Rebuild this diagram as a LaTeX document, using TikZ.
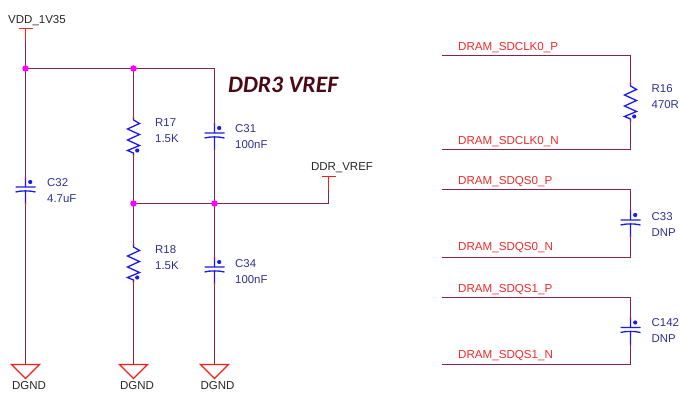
\documentclass[tikz,border=0pt]{standalone}
\usepackage{fontspec}
\setmainfont{Liberation Sans}
\newfontfamily\titlefont{Carlito}
\definecolor{wirec}{HTML}{85234F}
\definecolor{symc}{HTML}{1A1AF0}
\definecolor{partc}{HTML}{2E3192}
\definecolor{netc}{HTML}{EE2A2A}
\definecolor{pwrc}{HTML}{FF1A1A}
\definecolor{titlec}{HTML}{4A0A14}
\definecolor{juncc}{HTML}{FF00FF}
\tikzset{
  wire/.style={draw=wirec,line width=1.5pt},
  sym/.style={draw=symc,line width=1.3pt},
  pwr/.style={draw=pwrc,line width=1.2pt},
  partlabel/.style={font=\fontsize{11.4}{13}\selectfont,text=partc,anchor=west,inner sep=0pt},
  netlabel/.style={font=\fontsize{11.6}{13}\selectfont,text=netc,anchor=west,inner sep=0pt},
  pwrlabel/.style={font=\fontsize{11.5}{13}\selectfont,text=black!85,inner sep=0pt},
  junction/.style={circle,fill=juncc,draw=none,minimum size=6.5pt,inner sep=0pt},
  capsym/.pic={
    % origin at the top pin; plates 10 and 15 below
    \draw[sym] (0,0) -- (0,10) (-10,10) -- (10,10) (-10,15) .. controls (-4,13.5) and (4,13.5) .. (10,15) (0,14) -- (0,27);
    \fill[symc] (4.7,5) circle (2.1);
    \fill[pwrc] (-0.7,-0.7) rectangle (0.7,1) (-0.7,26) rectangle (0.7,27.7);
  },
  ressym/.pic={
    % origin at the top pin; 39 long
    \draw[sym,line join=miter] (0,0) -- (0,3) -- (6,6.5) -- (-6,12) -- (6,17.5) -- (-6,23) -- (6,28.5) -- (-6,33.5) -- (0,36) -- (0,39);
    \fill[symc] (3.7,33.5) circle (2.1);
    \fill[pwrc] (-0.7,-0.7) rectangle (0.7,1) (-0.7,38) rectangle (0.7,39.7);
  },
  gndsym/.pic={
    \draw[pwr,line join=miter] (-14,0) -- (14,0) -- (0,14) -- cycle;
  },
  teesym/.pic={
    % origin at the bottom of the stem, 14 tall
    \draw[pwr] (0,0) -- (0,-14) (-7,-14) -- (7,-14);
  }
}
\begin{document}
\begin{tikzpicture}[x=1pt,y=-1pt]
\useasboundingbox (0,0) rectangle (686,398);
% named points
\coordinate (vddpin) at (25.5,42.5);
\coordinate (j1) at (25.5,68.5);
\coordinate (j2) at (133.5,68.5);
\coordinate (tr) at (214.5,68.5);
\coordinate (j3) at (133.5,203.5);
\coordinate (j4) at (214.5,203.5);
\coordinate (vr) at (328.5,203.5);
\coordinate (vrefpin) at (328.5,190.5);
\coordinate (g1) at (25.5,364.5);
\coordinate (g2) at (133.5,364.5);
\coordinate (g3) at (214.5,364.5);
\coordinate (c32t) at (25.5,177);
\coordinate (c32b) at (25.5,204);
\coordinate (r17t) at (133.5,117);
\coordinate (r17b) at (133.5,156);
\coordinate (r18t) at (133.5,244);
\coordinate (r18b) at (133.5,283);
\coordinate (c31t) at (214.5,123);
\coordinate (c31b) at (214.5,150);
\coordinate (c34t) at (214.5,257);
\coordinate (c34b) at (214.5,284);
\coordinate (clkpl) at (442,55.5);
\coordinate (clkpr) at (630.5,55.5);
\coordinate (clknl) at (442,149.5);
\coordinate (clknr) at (630.5,149.5);
\coordinate (r16t) at (630.5,83);
\coordinate (r16b) at (630.5,122);
\coordinate (q0pl) at (442,189.5);
\coordinate (q0pr) at (630.5,189.5);
\coordinate (q0nl) at (442,257.5);
\coordinate (q0nr) at (630.5,257.5);
\coordinate (c33t) at (630.5,210);
\coordinate (c33b) at (630.5,237);
\coordinate (q1pl) at (442,297.5);
\coordinate (q1pr) at (630.5,297.5);
\coordinate (q1nl) at (442,364.5);
\coordinate (q1nr) at (630.5,364.5);
\coordinate (c142t) at (630.5,317.5);
\coordinate (c142b) at (630.5,344.5);
% wires
\draw[wire] (vddpin) -- (j1) -- (c32t);
\draw[wire] (c32b) -- (g1);
\draw[wire] (j1) -- (j2) -- (tr) -- (c31t);
\draw[wire] (j2) -- (r17t);
\draw[wire] (r17b) -- (j3) -- (r18t);
\draw[wire] (r18b) -- (g2);
\draw[wire] (c31b) -- (j4) -- (c34t);
\draw[wire] (c34b) -- (g3);
\draw[wire] (j3) -- (j4) -- (vr) -- (vrefpin);
\draw[wire] (clkpl) -- (clkpr) -- (r16t);
\draw[wire] (r16b) -- (clknr) -- (clknl);
\draw[wire] (q0pl) -- (q0pr) -- (c33t);
\draw[wire] (c33b) -- (q0nr) -- (q0nl);
\draw[wire] (q1pl) -- (q1pr) -- (c142t);
\draw[wire] (c142b) -- (q1nr) -- (q1nl);
% symbols
\pic at (c32t) {capsym};
\pic at (c31t) {capsym};
\pic at (c34t) {capsym};
\pic at (c33t) {capsym};
\pic at (c142t) {capsym};
\pic at (r17t) {ressym};
\pic at (r18t) {ressym};
\pic at (r16t) {ressym};
\pic at (g1) {gndsym};
\pic at (g2) {gndsym};
\pic at (g3) {gndsym};
\pic at (vddpin) {teesym};
\pic at (vrefpin) {teesym};
% junctions
\node[junction] (dj1) at (j1) {};
\node[junction] (dj2) at (j2) {};
\node[junction] (dj3) at (j3) {};
\node[junction] (dj4) at (j4) {};
% power labels
\node[pwrlabel] (lvdd) at (37,20.5) {VDD\_1V35};
\node[pwrlabel] (lvref) at (342,168) {DDR\_VREF};
\node[pwrlabel] (lg1) at (29,385.5) {DGND};
\node[pwrlabel] (lg2) at (137,385.5) {DGND};
\node[pwrlabel] (lg3) at (217.5,385.5) {DGND};
% part labels
\node[partlabel] (n32) at (47,183) {C32};
\node[partlabel] (v32) at (47,199) {4.7uF};
\node[partlabel] (n17) at (155,122.5) {R17};
\node[partlabel] (v17) at (155,139) {1.5K};
\node[partlabel] (n18) at (155,250) {R18};
\node[partlabel] (v18) at (155,266) {1.5K};
\node[partlabel] (n31) at (235,129) {C31};
\node[partlabel] (v31) at (235,144.5) {100nF};
\node[partlabel] (n34) at (235,264) {C34};
\node[partlabel] (v34) at (235,279.5) {100nF};
\node[partlabel] (n16) at (651.5,89) {R16};
\node[partlabel] (v16) at (651.5,105) {470R};
\node[partlabel] (n33) at (651.5,217) {C33};
\node[partlabel] (v33) at (651.5,233) {DNP};
\node[partlabel] (n142) at (651.5,323) {C142};
\node[partlabel] (v142) at (651.5,339) {DNP};
% net labels
\node[netlabel] (s1) at (458,47.5) {DRAM\_SDCLK0\_P};
\node[netlabel] (s2) at (458,141.5) {DRAM\_SDCLK0\_N};
\node[netlabel] (s3) at (458,181.5) {DRAM\_SDQS0\_P};
\node[netlabel] (s4) at (458,248) {DRAM\_SDQS0\_N};
\node[netlabel] (s5) at (458,289.5) {DRAM\_SDQS1\_P};
\node[netlabel] (s6) at (458,356) {DRAM\_SDQS1\_N};
% title
\node[anchor=west,inner sep=0pt,text=titlec,font=\titlefont\bfseries\itshape\fontsize{23.6}{27}\selectfont] (title) at (228,85) {DDR3 VREF};
\end{tikzpicture}
\end{document}
